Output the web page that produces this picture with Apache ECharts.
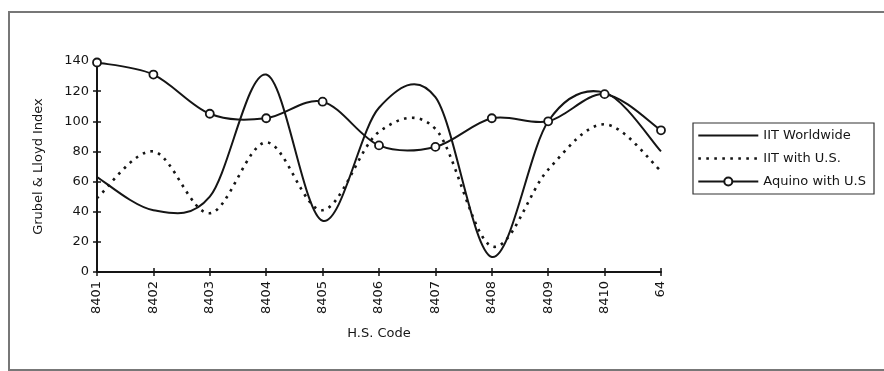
<!DOCTYPE html>
<html>
<head>
<meta charset="utf-8">
<script src="https://cdn.jsdelivr.net/npm/echarts@6/dist/echarts.min.js"></script>
<style>
html,body{margin:0;padding:0;background:#fff;}
#chart{width:884px;height:371px;}
</style>
</head>
<body>
<div id="chart"></div>
<script>
const categories = ['8401','8402','8403','8404','8405','8406','8407','8408','8409','8410','64'];
const iitWorldwide = [63, 41, 50, 131, 34, 109, 116, 10, 100, 119, 80];
const iitWithUS = [49, 80, 39, 86, 41, 93, 95, 17, 68, 98, 67];
const aquinoWithUS = [139, 131, 105, 102, 113, 84, 83, 102, 100, 118, 94];
const yTicks = {min: 0, max: 140, interval: 20};

const FONT = 'DejaVu Sans';
const INK = '#151515';

const solidStyle = {color: INK, width: 2, type: 'solid'};
const dottedStyle = {color: INK, width: 2.6, type: [2.6, 5.4]};

// Smoothed curve (Excel-like cardinal spline) drawn through the axis scales.
function curveSeries(id, values, ls, z) {
  return {
    id: id,
    type: 'custom',
    silent: true,
    z: z,
    data: values.map((v, i) => [i, v]),
    encode: {x: 0, y: 1},
    renderItem: function (params, api) {
      if (params.dataIndex !== 0) return null;
      const p = values.map((v, i) => api.coord([i, v]));
      let d = 'M' + p[0][0] + ' ' + p[0][1];
      for (let i = 0; i < p.length - 1; i++) {
        const a = p[i - 1] || p[i], b = p[i], c = p[i + 1], e = p[i + 2] || p[i + 1];
        const c1x = b[0] + (c[0] - a[0]) / 6, c1y = b[1] + (c[1] - a[1]) / 6;
        const c2x = c[0] - (e[0] - b[0]) / 6, c2y = c[1] - (e[1] - b[1]) / 6;
        d += ' C' + c1x + ' ' + c1y + ' ' + c2x + ' ' + c2y + ' ' + c[0] + ' ' + c[1];
      }
      return {
        type: 'path',
        shape: {pathData: d},
        style: {fill: 'none', stroke: ls.color, lineWidth: ls.width,
                lineDash: Array.isArray(ls.type) ? ls.type : null, lineCap: 'butt'}
      };
    }
  };
}

const chart = echarts.init(document.getElementById('chart'), null, {renderer: 'canvas'});
chart.setOption({
  backgroundColor: '#fff',
  animation: false,
  textStyle: {fontFamily: FONT, color: INK},
  graphic: [{
    type: 'rect',
    shape: {x: 9, y: 12, width: 900, height: 358},
    style: {fill: 'none', stroke: '#777', lineWidth: 2},
    silent: true
  }],
  grid: {left: 97, right: 223, top: 61, bottom: 99, containLabel: false},
  legend: {
    orient: 'vertical',
    left: 693,
    top: 123,
    padding: [6, 8, 6, 4],
    itemGap: 10,
    itemWidth: 60,
    itemHeight: 10,
    borderColor: '#333',
    borderWidth: 1.2,
    backgroundColor: '#fff',
    textStyle: {fontFamily: FONT, fontSize: 13, color: INK},
    data: [
      {name: 'IIT Worldwide', itemStyle: {opacity: 0}, lineStyle: Object.assign({opacity: 1}, solidStyle)},
      {name: 'IIT with U.S.', itemStyle: {opacity: 0}, lineStyle: Object.assign({opacity: 1}, dottedStyle)},
      {name: 'Aquino with U.S', lineStyle: Object.assign({opacity: 1}, solidStyle)}
    ]
  },
  xAxis: [{
    type: 'category',
    data: categories,
    boundaryGap: false,
    name: 'H.S. Code',
    nameLocation: 'middle',
    nameGap: 55,
    nameTextStyle: {fontFamily: FONT, fontSize: 13, color: INK},
    axisLine: {lineStyle: {color: INK, width: 2}},
    axisTick: {show: true, inside: false, length: 4, alignWithLabel: true, lineStyle: {color: INK, width: 1.5}},
    axisLabel: {rotate: 90, fontFamily: FONT, fontSize: 13, color: INK, margin: 9, interval: 0},
    splitLine: {show: false}
  }, {
    type: 'category',
    data: categories,
    boundaryGap: false,
    position: 'bottom',
    axisLine: {show: false},
    axisTick: {show: true, inside: true, length: 4, lineStyle: {color: INK, width: 1.5}},
    axisLabel: {show: false},
    splitLine: {show: false}
  }],
  yAxis: [{
    type: 'value',
    min: yTicks.min,
    max: yTicks.max,
    interval: yTicks.interval,
    name: 'Grubel & Lloyd Index',
    nameLocation: 'middle',
    nameRotate: 90,
    nameGap: 52,
    nameTextStyle: {fontFamily: FONT, fontSize: 13, color: INK},
    axisLine: {show: true, lineStyle: {color: INK, width: 2}},
    axisTick: {show: true, inside: false, length: 4, lineStyle: {color: INK, width: 1.5}},
    axisLabel: {fontFamily: FONT, fontSize: 13, color: INK, margin: 8},
    splitLine: {show: false}
  }, {
    type: 'value',
    min: yTicks.min,
    max: yTicks.max,
    interval: yTicks.interval,
    position: 'left',
    axisLine: {show: false},
    axisTick: {show: true, inside: true, length: 4, lineStyle: {color: INK, width: 1.5}},
    axisLabel: {show: false},
    splitLine: {show: false}
  }],
  series: [
    curveSeries('c1', iitWorldwide, solidStyle, 2),
    curveSeries('c2', iitWithUS, dottedStyle, 2),
    curveSeries('c3', aquinoWithUS, solidStyle, 2),
    {
      name: 'IIT Worldwide',
      type: 'line',
      data: iitWorldwide,
      symbol: 'none',
      lineStyle: Object.assign({}, solidStyle, {opacity: 0}),
      itemStyle: {color: INK}
    }, {
      name: 'IIT with U.S.',
      type: 'line',
      data: iitWithUS,
      symbol: 'none',
      lineStyle: Object.assign({}, dottedStyle, {opacity: 0}),
      itemStyle: {color: INK}
    }, {
      name: 'Aquino with U.S',
      type: 'line',
      data: aquinoWithUS,
      symbol: 'circle',
      symbolSize: 8,
      showAllSymbol: true,
      lineStyle: Object.assign({}, solidStyle, {opacity: 0}),
      itemStyle: {color: '#fff', borderColor: INK, borderWidth: 1.8},
      z: 3
    }
  ]
});
</script>
</body>
</html>
